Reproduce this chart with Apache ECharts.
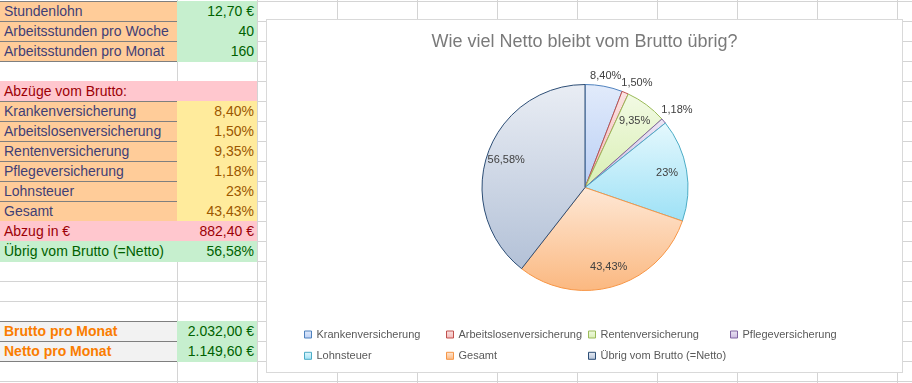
<!DOCTYPE html>
<html>
<head>
<meta charset="utf-8">
<script src="https://cdn.jsdelivr.net/npm/echarts@6/dist/echarts.min.js"></script>
<style>
  html, body { margin:0; padding:0; background:#fff; }
  #sheet { position:relative; width:912px; height:383px; overflow:hidden; font-family:"Liberation Sans", Arial, sans-serif; font-size:14px; }
  .gl { position:absolute; background:#d4d4d4; }
  .cell { position:absolute; box-sizing:border-box; line-height:21px; white-space:nowrap; overflow:visible; }
  .txt { position:absolute; top:0; }
  #chart { position:absolute; left:266px; top:19px; width:637px; height:354px; box-sizing:border-box; border:1px solid #d9d9d9; background:#fff; }
</style>
</head>
<body>
<div id="sheet"><div id="chart"></div></div>
<script>
// ---------------- data ----------------
const categories = ['Krankenversicherung','Arbeitslosenversicherung','Rentenversicherung','Pflegeversicherung','Lohnsteuer','Gesamt','Übrig vom Brutto (=Netto)'];
const shares = [8.40, 1.50, 9.35, 1.18, 23, 43.43, 56.58];
const inputLabels = ['Stundenlohn','Arbeitsstunden pro Woche','Arbeitsstunden pro Monat'];
const hourlyWage = 12.70;
const hoursPerWeek = 40;
const hoursPerMonth = 160;
const deductionHeader = 'Abzüge vom Brutto:';
const deductionEuroLabel = 'Abzug in €';
const deductionEuro = 882.40;
const summaryLabels = ['Brutto pro Monat','Netto pro Monat'];
const summaryValues = [2032.00, 1149.60];
const chartTitle = 'Wie viel Netto bleibt vom Brutto übrig?';

// ---------------- helpers ----------------
function fmtPct(v){ return (Number.isInteger(v) ? String(v) : v.toFixed(2).replace('.', ',')) + '%'; }
function fmtEuro(v){
  const parts = v.toFixed(2).split('.');
  const intPart = parts[0].replace(/\B(?=(\d{3})+(?!\d))/g, '.');
  return intPart + ',' + parts[1] + ' €';
}

// ---------------- spreadsheet ----------------
const sheet = document.getElementById('sheet');
const colLines = [177, 257, 337, 417, 497, 577, 657, 737, 817, 897];
for (const x of colLines) { const d = document.createElement('div'); d.className='gl'; d.style.cssText += `left:${x}px;top:0;width:1px;height:383px;`; sheet.insertBefore(d, sheet.firstChild); }
for (let k = 0; k < 20; k++) { const d = document.createElement('div'); d.className='gl'; d.style.cssText += `left:0;top:${1+20*k}px;width:912px;height:1px;`; sheet.insertBefore(d, sheet.firstChild); }

const STY = {
  input: {bg:'#ffcc99', fg:'#3f3f76', border:'#7f7f7f'},
  good:  {bg:'#c6efce', fg:'#006100'},
  bad:   {bg:'#ffc7ce', fg:'#9c0006'},
  neutral: {bg:'#ffeb9c', fg:'#9c5700'},
  calc:  {bg:'#f2f2f2', fg:'#fa7d00', border:'#7f7f7f', bold:true}
};
function cell(row, col, text, sty, align){
  const s = STY[sty];
  const x0 = col === 0 ? -1 : 177, x1 = col === 0 ? 177 : 257;
  const y0 = 1 + 20*row, y1 = y0 + 20;
  const d = document.createElement('div');
  d.className = 'cell';
  d.style.left = x0 + 'px'; d.style.top = y0 + 'px';
  d.style.width = (x1 - x0 + (s.border ? 1 : 0)) + 'px'; d.style.height = (y1 - y0 + 1) + 'px';
  d.style.background = s.bg; d.style.color = s.fg;
  if (s.border) d.style.border = '1px solid ' + s.border;
  if (s.bold) d.style.fontWeight = 'bold';
  const t = document.createElement('span');
  t.className = 'txt';
  t.textContent = text;
  if (align === 'right') { t.style.right = (s.border ? 2 : 3) + 'px'; } else { t.style.left = (s.border ? 4 : 5) + 'px'; }
  t.style.top = (s.border ? -1 : 0) + 'px';
  d.appendChild(t);
  sheet.insertBefore(d, document.getElementById('chart'));
}
const inputValues = [fmtEuro(hourlyWage), String(hoursPerWeek), String(hoursPerMonth)];
inputLabels.forEach((l, i) => { cell(i, 0, l, 'input'); cell(i, 1, inputValues[i], 'good', 'right'); });
cell(4, 0, deductionHeader, 'bad'); cell(4, 1, '', 'bad');
for (let i = 0; i < 6; i++) { cell(5+i, 0, categories[i], 'input'); cell(5+i, 1, fmtPct(shares[i]), 'neutral', 'right'); }
cell(11, 0, deductionEuroLabel, 'bad'); cell(11, 1, fmtEuro(deductionEuro), 'bad', 'right');
cell(12, 0, categories[6], 'good'); cell(12, 1, fmtPct(shares[6]), 'good', 'right');
summaryLabels.forEach((l, i) => { cell(16+i, 0, l, 'calc'); cell(16+i, 1, fmtEuro(summaryValues[i]), 'good', 'right'); });

// ---------------- chart ----------------
const FONT = '"Liberation Sans", Arial, sans-serif';
const sliceTop    = ['#e2ebfb','#fbe3e3','#f2fae4','#ece6f4','#e5f8fd','#fee8d6','#e9edf4'];
const sliceBottom = ['#b9cff5','#f2b8b7','#d9efb3','#cbbbe0','#9de1f6','#fbb880','#b3c1d7'];
const sliceBorder = ['#4f81bd','#c0504d','#9bbb59','#8064a2','#4bacc6','#f79646','#2c4d75'];
const innerLabelItems = ['Rentenversicherung','Lohnsteuer','Gesamt','Übrig vom Brutto (=Netto)'];
const nearLabelItems = ['Krankenversicherung','Arbeitslosenversicherung'];
const farLabelItems = ['Pflegeversicherung'];
const CENTER = [318, 167.5];
const R = 103;

const chart = echarts.init(document.getElementById('chart'), null, {renderer:'canvas'});
function labelSeries(radius, shown, shift){
  return {
    type:'pie', center:CENTER, radius:radius, startAngle:90, clockwise:true, silent:true,
    legendHoverLink:false, emphasis:{disabled:true},
    itemStyle:{color:'rgba(0,0,0,0)', borderWidth:0},
    label:{position:'inside', formatter:p => fmtPct(p.value), color:'#404040', fontSize:11, fontFamily:FONT},
    labelLine:{show:false},
    labelLayout: shift ? {hideOverlap:false, moveOverlap:'shiftX'} : {hideOverlap:false},
    data: categories.map((n, i) => ({name:n, value:shares[i], label:{show: shown.includes(n)}}))
  };
}
const legends = categories.map((n, i) => ({
  data:[n], left:37 + (i % 4) * 142, top:309 + Math.floor(i / 4) * 21.3, padding:0, orient:'horizontal',
  itemWidth:7, itemHeight:7, icon:'rect', selectedMode:false,
  itemStyle:{borderWidth:1},
  textStyle:{color:'#595959', fontSize:11, fontFamily:FONT}
}));
chart.setOption({
  animation:false,
  title:{text:chartTitle, left:'center', top:13, padding:0, textStyle:{color:'#7a7a7a', fontSize:18, fontWeight:'normal', fontFamily:FONT}},
  legend: legends,
  series:[
    {
      type:'pie', name:'Anteil', center:CENTER, radius:R, startAngle:90, clockwise:true, silent:true,
      emphasis:{disabled:true}, label:{show:false}, labelLine:{show:false},
      data: categories.map((n, i) => ({
        name:n, value:shares[i],
        itemStyle:{
          color:{type:'linear', x:0, y:0, x2:0, y2:1, colorStops:[{offset:0, color:sliceTop[i]}, {offset:1, color:sliceBottom[i]}]},
          borderColor:sliceBorder[i], borderWidth:1
        }
      }))
    },
    labelSeries(2*0.78*R, innerLabelItems, false),
    labelSeries(2*1.07*R, nearLabelItems, true),
    labelSeries(2*1.14*R, farLabelItems, false)
  ]
});
</script>
</body>
</html>
